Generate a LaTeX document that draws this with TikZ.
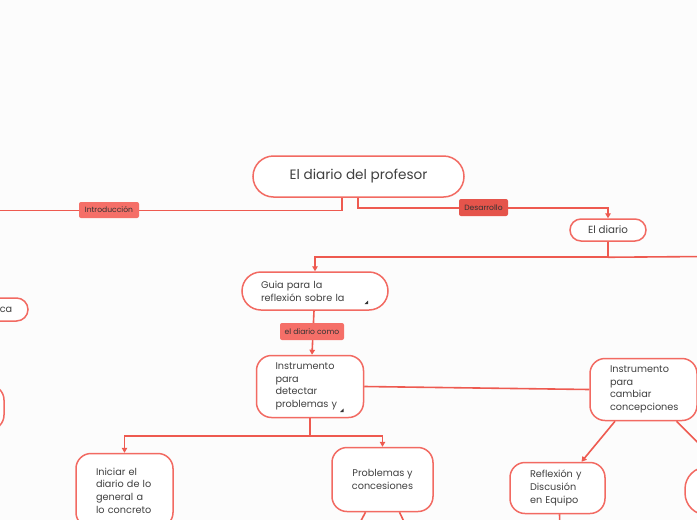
\documentclass[tikz,border=0pt]{standalone}
\usepackage{fontspec}
\setmainfont{Poppins}
\usetikzlibrary{arrows.meta}
\definecolor{boxc}{HTML}{F26A62}
\definecolor{linec}{HTML}{EE5A50}
\definecolor{txt}{HTML}{404040}
\definecolor{lblA}{HTML}{F56F68}
\definecolor{lblB}{HTML}{E5544B}
\definecolor{bg}{HTML}{FCFCFC}
\tikzset{
  box/.style={draw=boxc, line width=1.5pt, fill=white, text=txt, inner sep=0pt,
    font=\fontsize{9.7}{12.7}\selectfont},
  lbl/.style={fill=#1, rounded corners=2pt, inner sep=0pt, text=black!80,
    font=\fontsize{7.6}{8}\selectfont},
  conn/.style={draw=linec, line width=1.6pt},
  arr/.style={conn, -{Triangle[width=5.5pt,length=5pt]}},
  cornermark/.style={fill=black!80}
}
\begin{document}
\begin{tikzpicture}[x=1pt,y=-1pt]
\useasboundingbox (0,0) rectangle (697,520);
\fill[bg] (0,0) rectangle (697,520);
\clip (0,0) rectangle (697,520);
% nodes
\node[box, minimum width=211, minimum height=41, rounded corners=20.5pt,
  font=\fontsize{13.6}{15}\selectfont] (root) at (358.5,176.5) {\raisebox{-2pt}{El diario del profesor}};
\node[box, minimum width=76, minimum height=22, rounded corners=11pt,
  font=\fontsize{10.3}{12}\selectfont] (diario) at (608,230) {\raisebox{-0.5pt}{El diario}};
\node[box, minimum width=146, minimum height=38, rounded corners=19pt,
  text width=108pt, align=left] (guia) at (315,291) {Guia para la\\reflexión sobre la};
\node[box, minimum width=107, minimum height=62, rounded corners=15pt,
  text width=69pt, align=left] (det) at (310,386.5) {Instrumento\\para\\detectar\\problemas y};
\node[box, minimum width=107, minimum height=62, rounded corners=15pt,
  text width=67pt, align=left] (camb) at (643.5,389.5) {Instrumento\\para\\cambiar\\concepciones};
\node[box, minimum width=97, minimum height=74, rounded corners=15pt,
  text width=57pt, align=left] (ini) at (124.5,490.5) {Iniciar el\\diario de lo\\general a\\lo concreto};
\node[box, minimum width=101, minimum height=64, rounded corners=15pt,
  align=center] (prob) at (382.5,479.5) {Problemas y\\concesiones};
\node[box, minimum width=95, minimum height=51, rounded corners=15pt,
  text width=55pt, align=left] (refl) at (557.5,488) {Reflexión y\\Discusión\\en Equipo};
\node[box, minimum width=90, minimum height=48, rounded corners=22pt] (br) at (730,491) {};
\node[box, minimum width=116, minimum height=23, rounded corners=11.5pt] (lca) at (-30,309.5) {};
\node[text=txt, font=\fontsize{9.7}{12}\selectfont, anchor=east, inner sep=0pt] (catext) at (12.5,310) {ca};
\node[box, minimum width=108, minimum height=45, rounded corners=15pt] (llow) at (-50,407.5) {};
% free ends
\coordinate (introEnd) at (-5,210.5);
\coordinate (rightEnd) at (705,256.5);
\coordinate (p1) at (356,530);
\coordinate (p2) at (408,530);
\coordinate (brIn) at (722,467);
\coordinate (reflEnd) at (560,530);
% connectors
\draw[conn] ([xshift=-16.5pt]root.south) |- (introEnd);
\draw[arr] ([xshift=-0.5pt]root.south) |- ([yshift=10.5pt]diario.north) -- (diario.north);
\draw[arr] (diario.south) -- ++(0,15.5) -| (guia.north);
\draw[conn] ([yshift=-15.5pt]diario.south) -- (rightEnd);
\draw[arr] ([xshift=-1pt]guia.south) -- ([xshift=2pt]det.north);
\draw[conn] (det.east) -- (camb.west);
\draw[arr] (det.south) -- ++(0,18) -| (ini.north);
\draw[arr] (det.south) -- ++(0,18) -| (prob.north);
\draw[conn] ([xshift=-17pt]prob.south) -- (p1);
\draw[conn] ([xshift=17pt]prob.south) -- (p2);
\draw[arr] ([xshift=-28.5pt]camb.south) -- ([xshift=24pt]refl.north);
\draw[conn] ([xshift=33pt]camb.south) -- (brIn);
\draw[conn] ([xshift=2pt]refl.south) -- (reflEnd);
% labels on connectors
\node[lbl=lblA, minimum width=60, minimum height=16] (intro) at (109,210) {Introducción};
\node[lbl=lblB, minimum width=49, minimum height=17] (desa) at (483.5,207.5) {Desarrollo};
\node[lbl=lblA, minimum width=64, minimum height=17] (como) at (312,331.5) {el diario como};
% markers
\fill[cornermark] (364.5,304) -- (368,304) -- (368,300.5) -- cycle;
\fill[cornermark] (340,412) -- (343.5,412) -- (343.5,408.5) -- cycle;
\end{tikzpicture}
\end{document}
